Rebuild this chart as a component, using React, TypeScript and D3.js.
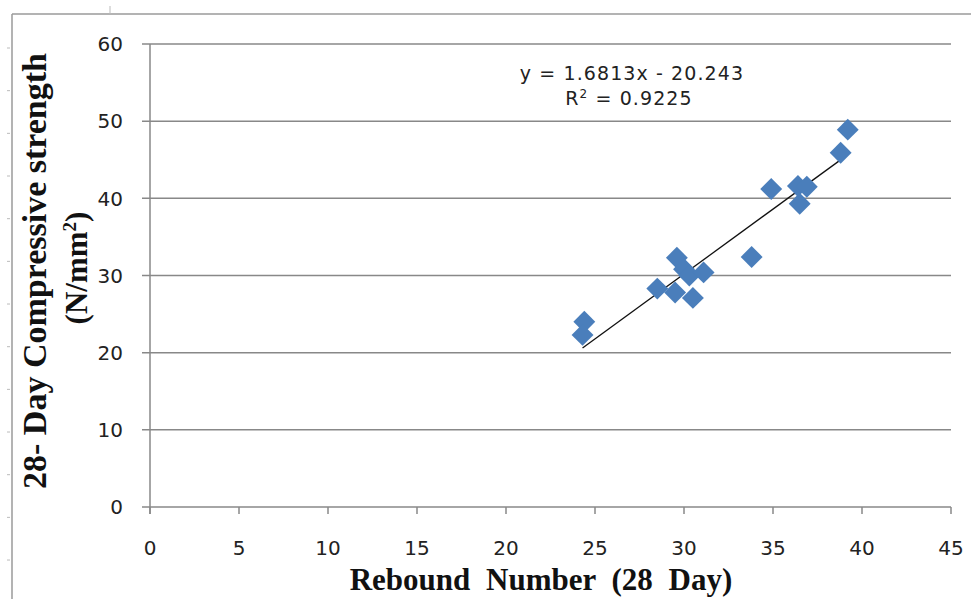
import React from "react";
import * as d3 from "d3";

const rebound = [24.4, 24.3, 28.5, 29.6, 29.5, 30.0, 30.3, 30.5, 31.1, 33.8, 34.9, 36.4, 36.9, 36.5, 38.8, 39.2];
const strength = [24.0, 22.3, 28.3, 32.3, 27.8, 30.8, 30.0, 27.1, 30.4, 32.4, 41.2, 41.6, 41.5, 39.3, 45.9, 48.9];
const xTicks = [0, 5, 10, 15, 20, 25, 30, 35, 40, 45];
const yTicks = [0, 10, 20, 30, 40, 50, 60];
const trendSlope = 1.6813;
const trendIntercept = -20.243;
const equationText = "y = 1.6813x - 20.243";
const r2Value = "0.9225";
const xTitle = "Rebound Number (28 Day)";
const yTitle1 = "28- Day Compressive strength";

const W = 971;
const H = 599;

export default function App() {
  const x = d3.scaleLinear().domain([0, 45]).range([150, 951]);
  const y = d3.scaleLinear().domain([0, 60]).range([507, 44]);
  const grid = "#888888";
  const diamond = d3.symbol().type(d3.symbolSquare).size(240)();
  const xMin = d3.min(rebound) as number;
  const xMax = d3.max(rebound) as number;
  const line = d3.line<number>().x((v) => x(v)).y((v) => y(trendSlope * v + trendIntercept));
  const rulerTicks = d3.range(13).map((k) => 48 + k * 42.67);

  return (
    <svg width={W} height={H} style={{ position: "absolute", left: 0, top: 0, display: "block", background: "#fff" }}>
      {/* frame artifacts */}
      <line x1={12} y1={14} x2={W} y2={14} stroke="#9a9a9a" strokeWidth={1.5} />
      <line x1={12} y1={14} x2={12} y2={H} stroke="#9a9a9a" strokeWidth={1.5} />
      <line x1={110} y1={6} x2={110} y2={14} stroke="#bbb" strokeWidth={1} />
      {rulerTicks.map((t, i) => (
        <line key={i} x1={7} x2={10} y1={t} y2={t} stroke="#bbb" strokeWidth={1} />
      ))}

      {/* gridlines */}
      {yTicks.map((t) => (
        <line key={t} x1={142} x2={951} y1={y(t)} y2={y(t)} stroke={grid} strokeWidth={1.5} />
      ))}
      {/* y axis */}
      <line x1={150} x2={150} y1={y(60)} y2={y(0) + 7} stroke={grid} strokeWidth={1.5} />
      {xTicks.map((t) => (
        <line key={t} x1={x(t)} x2={x(t)} y1={y(0)} y2={y(0) + 7} stroke={grid} strokeWidth={1.5} />
      ))}

      {/* tick labels */}
      {yTicks.map((t) => (
        <text key={t} x={123} y={y(t)} dy="0.36em" textAnchor="end" fontFamily="DejaVu Sans" fontSize={20} fill="#222">
          {t}
        </text>
      ))}
      {xTicks.map((t) => (
        <text key={t} x={x(t)} y={555} textAnchor="middle" fontFamily="DejaVu Sans" fontSize={20} fill="#222">
          {t}
        </text>
      ))}

      {/* trendline */}
      <path d={line([xMin, xMax]) || ""} stroke="#111" strokeWidth={1.3} fill="none" />

      {/* points */}
      {rebound.map((r, i) => (
        <path key={i} d={diamond || ""} transform={`translate(${x(r)},${y(strength[i])}) rotate(45)`} fill="#4a7ebb" />
      ))}

      {/* equation */}
      <text x={632} y={80} textAnchor="middle" fontFamily="DejaVu Sans" fontSize={19} letterSpacing={1.1} fill="#222">
        {equationText}
      </text>
      <text x={629} y={105} textAnchor="middle" fontFamily="DejaVu Sans" fontSize={19} letterSpacing={1.1} fill="#222">
        R<tspan dy={-7} fontSize={12}>2</tspan>
        <tspan dy={7}> = {r2Value}</tspan>
      </text>

      {/* axis titles */}
      <text x={541} y={590} textAnchor="middle" fontFamily="Liberation Serif" fontWeight="bold" fontSize={31} wordSpacing={8} fill="#111">
        {xTitle}
      </text>
      <text transform="translate(46,271) rotate(-90)" textAnchor="middle" fontFamily="Liberation Serif" fontWeight="bold" fontSize={34} fill="#111">
        {yTitle1}
      </text>
      <text transform="translate(87,268) rotate(-90)" textAnchor="middle" fontFamily="Liberation Serif" fontWeight="bold" fontSize={31} fill="#111">
        (N/mm<tspan dy={-11} fontSize={19}>2</tspan>
        <tspan dy={11}>)</tspan>
      </text>
    </svg>
  );
}
